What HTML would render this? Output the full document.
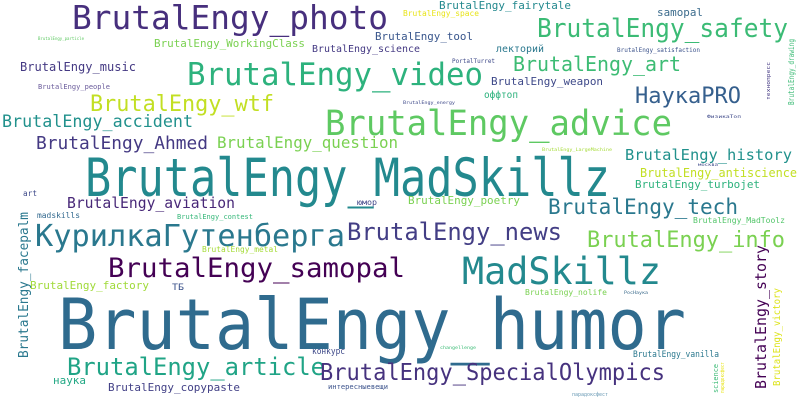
<!DOCTYPE html>
<html><head><meta charset="utf-8"><style>
html,body{margin:0;padding:0;background:#fff;}
svg{display:block;}
text{font-family:"DejaVu Sans Mono","Liberation Mono","Noto Sans CJK SC",monospace;}
</style></head><body>
<svg width="800" height="400" viewBox="0 0 800 400" lengthAdjust="spacingAndGlyphs">
<rect width="800" height="400" fill="#fff"/>
<g lengthAdjust="spacingAndGlyphs">
<text x="58" y="349" font-size="70" fill="#2f6b8e" textLength="628" lengthAdjust="spacingAndGlyphs">BrutalEngy_humor</text>
<text x="85" y="196" font-size="53" fill="#23898e" textLength="525" lengthAdjust="spacingAndGlyphs">BrutalEngy_MadSkillz</text>
<text x="72" y="29" font-size="33" fill="#472f7d" textLength="316" lengthAdjust="spacingAndGlyphs">BrutalEngy_photo</text>
<text x="187" y="85" font-size="31" fill="#2db27d" textLength="296" lengthAdjust="spacingAndGlyphs">BrutalEngy_video</text>
<text x="325" y="135" font-size="35" fill="#5ec962" textLength="347" lengthAdjust="spacingAndGlyphs">BrutalEngy_advice</text>
<text x="537" y="37" font-size="26" fill="#3bbb75" textLength="251" lengthAdjust="spacingAndGlyphs">BrutalEngy_safety</text>
<text x="513" y="71" font-size="20" fill="#3dbc74" textLength="168" lengthAdjust="spacingAndGlyphs">BrutalEngy_art</text>
<text x="635" y="103" font-size="22" fill="#355f8d" textLength="106" lengthAdjust="spacingAndGlyphs">НаукаPRO</text>
<text x="90" y="111" font-size="22" fill="#c2df23" textLength="184" lengthAdjust="spacingAndGlyphs">BrutalEngy_wtf</text>
<text x="2" y="127" font-size="17" fill="#21918c" textLength="191" lengthAdjust="spacingAndGlyphs">BrutalEngy_accident</text>
<text x="36" y="149" font-size="18" fill="#443983" textLength="172" lengthAdjust="spacingAndGlyphs">BrutalEngy_Ahmed</text>
<text x="217" y="148" font-size="16" fill="#7ad151" textLength="181" lengthAdjust="spacingAndGlyphs">BrutalEngy_question</text>
<text x="154" y="47" font-size="11" fill="#7ad151" textLength="151" lengthAdjust="spacingAndGlyphs">BrutalEngy_WorkingClass</text>
<text x="20" y="71" font-size="12" fill="#443983" textLength="116" lengthAdjust="spacingAndGlyphs">BrutalEngy_music</text>
<text x="38" y="89" font-size="7" fill="#6a5b9b" textLength="72" lengthAdjust="spacingAndGlyphs">BrutalEngy_people</text>
<text x="38" y="40" font-size="4" fill="#5ec962" textLength="46" lengthAdjust="spacingAndGlyphs">BrutalEngy_particle</text>
<text x="375" y="40" font-size="11" fill="#39568c" textLength="98" lengthAdjust="spacingAndGlyphs">BrutalEngy_tool</text>
<text x="312" y="52" font-size="10" fill="#443983" textLength="108" lengthAdjust="spacingAndGlyphs">BrutalEngy_science</text>
<text x="439" y="9" font-size="11" fill="#23898e" textLength="132" lengthAdjust="spacingAndGlyphs">BrutalEngy_fairytale</text>
<text x="403" y="16" font-size="8" fill="#e8e419" textLength="76" lengthAdjust="spacingAndGlyphs">BrutalEngy_space</text>
<text x="657" y="16" font-size="11" fill="#3b6b8c" textLength="46" lengthAdjust="spacingAndGlyphs">samopal</text>
<text x="496" y="52" font-size="10" fill="#2a788e" textLength="48" lengthAdjust="spacingAndGlyphs">лекторий</text>
<text x="617" y="52" font-size="6" fill="#3b528b" textLength="83" lengthAdjust="spacingAndGlyphs">BrutalEngy_satisfaction</text>
<text x="452" y="63" font-size="6" fill="#3e4989" textLength="43" lengthAdjust="spacingAndGlyphs">PortalTurret</text>
<text x="491" y="85" font-size="11" fill="#3e4989" textLength="112" lengthAdjust="spacingAndGlyphs">BrutalEngy_weapon</text>
<text x="484" y="98" font-size="10" fill="#2db27d" textLength="34" lengthAdjust="spacingAndGlyphs">оффтоп</text>
<text transform="translate(794,105) rotate(-90)" font-size="8" fill="#3bbb75" textLength="66" lengthAdjust="spacingAndGlyphs">BrutalEngy_drawing</text>
<text transform="translate(770,100) rotate(-90)" font-size="5" fill="#443983" textLength="38" lengthAdjust="spacingAndGlyphs">технопресс</text>
<text x="625" y="160" font-size="15.5" fill="#21918c" textLength="167" lengthAdjust="spacingAndGlyphs">BrutalEngy_history</text>
<text x="640" y="177" font-size="12" fill="#c2df23" textLength="157" lengthAdjust="spacingAndGlyphs">BrutalEngy_antiscience</text>
<text x="635" y="188" font-size="11" fill="#2db27d" textLength="125" lengthAdjust="spacingAndGlyphs">BrutalEngy_turbojet</text>
<text x="548" y="214" font-size="21" fill="#2a788e" textLength="190" lengthAdjust="spacingAndGlyphs">BrutalEngy_tech</text>
<text x="408" y="204" font-size="11" fill="#7ad151" textLength="112" lengthAdjust="spacingAndGlyphs">BrutalEngy_poetry</text>
<text x="693" y="223" font-size="8" fill="#52c569" textLength="92" lengthAdjust="spacingAndGlyphs">BrutalEngy_MadToolz</text>
<text x="587" y="247" font-size="22" fill="#7ad151" textLength="198" lengthAdjust="spacingAndGlyphs">BrutalEngy_info</text>
<text x="347" y="240" font-size="24" fill="#433e85" textLength="215" lengthAdjust="spacingAndGlyphs">BrutalEngy_news</text>
<text x="35" y="246" font-size="30" fill="#2a788e" textLength="310" lengthAdjust="spacingAndGlyphs">КурилкаГутенберга</text>
<text x="108" y="277" font-size="27" fill="#440154" textLength="297" lengthAdjust="spacingAndGlyphs">BrutalEngy_samopal</text>
<text x="462" y="284" font-size="37" fill="#23898e" textLength="199" lengthAdjust="spacingAndGlyphs">MadSkillz</text>
<text x="67" y="208" font-size="15" fill="#482878" textLength="168" lengthAdjust="spacingAndGlyphs">BrutalEngy_aviation</text>
<text x="37" y="218" font-size="8" fill="#31688e" textLength="43" lengthAdjust="spacingAndGlyphs">madskills</text>
<text x="177" y="219" font-size="7" fill="#35b779" textLength="76" lengthAdjust="spacingAndGlyphs">BrutalEngy_contest</text>
<text x="202" y="252" font-size="7.5" fill="#a5db36" textLength="76" lengthAdjust="spacingAndGlyphs">BrutalEngy_metal</text>
<text x="30" y="289" font-size="10.5" fill="#a0da39" textLength="119" lengthAdjust="spacingAndGlyphs">BrutalEngy_factory</text>
<text x="172" y="290" font-size="9" fill="#3b528b" textLength="12" lengthAdjust="spacingAndGlyphs">ТБ</text>
<text transform="translate(28,358) rotate(-90)" font-size="13" fill="#2a788e" textLength="146" lengthAdjust="spacingAndGlyphs">BrutalEngy_facepalm</text>
<text x="67" y="375" font-size="24" fill="#20a486" textLength="258" lengthAdjust="spacingAndGlyphs">BrutalEngy_article</text>
<text x="320" y="380" font-size="23" fill="#46327e" textLength="345" lengthAdjust="spacingAndGlyphs">BrutalEngy_SpecialOlympics</text>
<text x="53" y="384" font-size="11" fill="#22a884" textLength="33" lengthAdjust="spacingAndGlyphs">наука</text>
<text x="108" y="391" font-size="11" fill="#424086" textLength="132" lengthAdjust="spacingAndGlyphs">BrutalEngy_copypaste</text>
<text x="312" y="354" font-size="9" fill="#3e4989" textLength="33" lengthAdjust="spacingAndGlyphs">конкурс</text>
<text x="328" y="389" font-size="7" fill="#3b528b" textLength="60" lengthAdjust="spacingAndGlyphs">интересныевещи</text>
<text x="357" y="205" font-size="8" fill="#404688" textLength="20" lengthAdjust="spacingAndGlyphs">юмор</text>
<text x="23" y="196" font-size="8" fill="#3e4989" textLength="14" lengthAdjust="spacingAndGlyphs">art</text>
<text transform="translate(766,389) rotate(-90)" font-size="15" fill="#440154" textLength="144" lengthAdjust="spacingAndGlyphs">BrutalEngy_story</text>
<text transform="translate(780,386) rotate(-90)" font-size="10" fill="#dce319" textLength="98" lengthAdjust="spacingAndGlyphs">BrutalEngy_victory</text>
<text x="633" y="357" font-size="8.5" fill="#2a788e" textLength="86" lengthAdjust="spacingAndGlyphs">BrutalEngy_vanilla</text>
<text x="525" y="295" font-size="8" fill="#7ad151" textLength="82" lengthAdjust="spacingAndGlyphs">BrutalEngy_nolife</text>
<text transform="translate(718,393) rotate(-90)" font-size="7" fill="#3bbb75" textLength="29" lengthAdjust="spacingAndGlyphs">science</text>
<text transform="translate(724,393) rotate(-90)" font-size="5" fill="#e8e419" textLength="31" lengthAdjust="spacingAndGlyphs">парадоксфест</text>
<text x="572" y="396" font-size="5" fill="#6a9ab5" textLength="36" lengthAdjust="spacingAndGlyphs">парадоксфест</text>
<text x="403" y="104" font-size="4" fill="#3e4989" textLength="52" lengthAdjust="spacingAndGlyphs">BrutalEngy_energy</text>
<text x="542" y="151" font-size="4" fill="#a5db36" textLength="70" lengthAdjust="spacingAndGlyphs">BrutalEngy_LargeMachine</text>
<text x="707" y="118" font-size="4.5" fill="#3e4989" textLength="34" lengthAdjust="spacingAndGlyphs">ФизикаТоп</text>
<text x="624" y="294" font-size="4.5" fill="#3b6b8c" textLength="24" lengthAdjust="spacingAndGlyphs">РосНаука</text>
<text x="440" y="349" font-size="4.5" fill="#3bbb75" textLength="36" lengthAdjust="spacingAndGlyphs">changellenge</text>
<text x="698" y="166" font-size="4" fill="#3e4989" textLength="20" lengthAdjust="spacingAndGlyphs">москва</text>
</g>
</svg>
</body></html>
